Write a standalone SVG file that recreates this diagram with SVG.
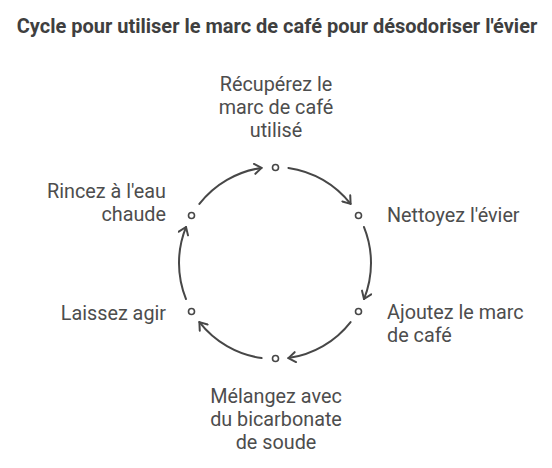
<svg xmlns="http://www.w3.org/2000/svg" width="552" height="468" viewBox="0 0 552 468">
<defs>
<style>
.title{font-family:Roboto,"Liberation Sans",sans-serif;font-size:20px;font-weight:bold;fill:#3f3f3f}
.lbl{font-family:Roboto,"Liberation Sans",sans-serif;font-size:19.8px;fill:#4d4d4d}
.arc{fill:none;stroke:#474747;stroke-width:2;stroke-linecap:round}
.dot{fill:#fff;stroke:#474747;stroke-width:1.6}
</style>
<marker id="ah" viewBox="0 0 12 12" refX="10" refY="6" markerUnits="userSpaceOnUse" markerWidth="12" markerHeight="12" orient="auto">
<path d="M3,1 L10,6 L3,11" fill="none" stroke="#474747" stroke-width="2" stroke-linecap="round" stroke-linejoin="round"/>
</marker>
</defs>
<rect width="552" height="468" fill="#fff"/>
<text class="title" x="277" y="33" text-anchor="middle">Cycle pour utiliser le marc de café pour désodoriser l'évier</text>
<g id="connectors">
<path class="arc" d="M288.4,167.9 A96,96 0 0 1 350.6,203.9" marker-end="url(#ah)"/>
<path class="arc" d="M364,227 A96,96 0 0 1 364,299" marker-end="url(#ah)"/>
<path class="arc" d="M350.6,322.1 A96,96 0 0 1 288.4,358.1" marker-end="url(#ah)"/>
<path class="arc" d="M261.6,358.1 A96,96 0 0 1 199.4,322.1" marker-end="url(#ah)"/>
<path class="arc" d="M186,299 A96,96 0 0 1 186,227" marker-end="url(#ah)"/>
<path class="arc" d="M199.4,203.9 A96,96 0 0 1 261.6,167.9" marker-end="url(#ah)"/>
</g>
<g id="node1">
<circle class="dot" cx="275.5" cy="167.5" r="3"/>
<text class="lbl" text-anchor="middle"><tspan x="276" y="91">Récupérez le</tspan><tspan x="276" y="114">marc de café</tspan><tspan x="276" y="137">utilisé</tspan></text>
</g>
<g id="node2">
<circle class="dot" cx="358.5" cy="215.5" r="3"/>
<text class="lbl" x="387" y="222">Nettoyez l'évier</text>
</g>
<g id="node3">
<circle class="dot" cx="358.5" cy="311.5" r="3"/>
<text class="lbl"><tspan x="387" y="319">Ajoutez le marc</tspan><tspan x="387" y="342">de café</tspan></text>
</g>
<g id="node4">
<circle class="dot" cx="275.5" cy="358.5" r="3"/>
<text class="lbl" text-anchor="middle"><tspan x="276" y="403">Mélangez avec</tspan><tspan x="276" y="426">du bicarbonate</tspan><tspan x="276" y="449">de soude</tspan></text>
</g>
<g id="node5">
<circle class="dot" cx="191.5" cy="311.5" r="3"/>
<text class="lbl" x="166" y="320" text-anchor="end">Laissez agir</text>
</g>
<g id="node6">
<circle class="dot" cx="191.5" cy="215.5" r="3"/>
<text class="lbl" text-anchor="end"><tspan x="166" y="198">Rincez à l'eau</tspan><tspan x="166" y="221">chaude</tspan></text>
</g>
</svg>
